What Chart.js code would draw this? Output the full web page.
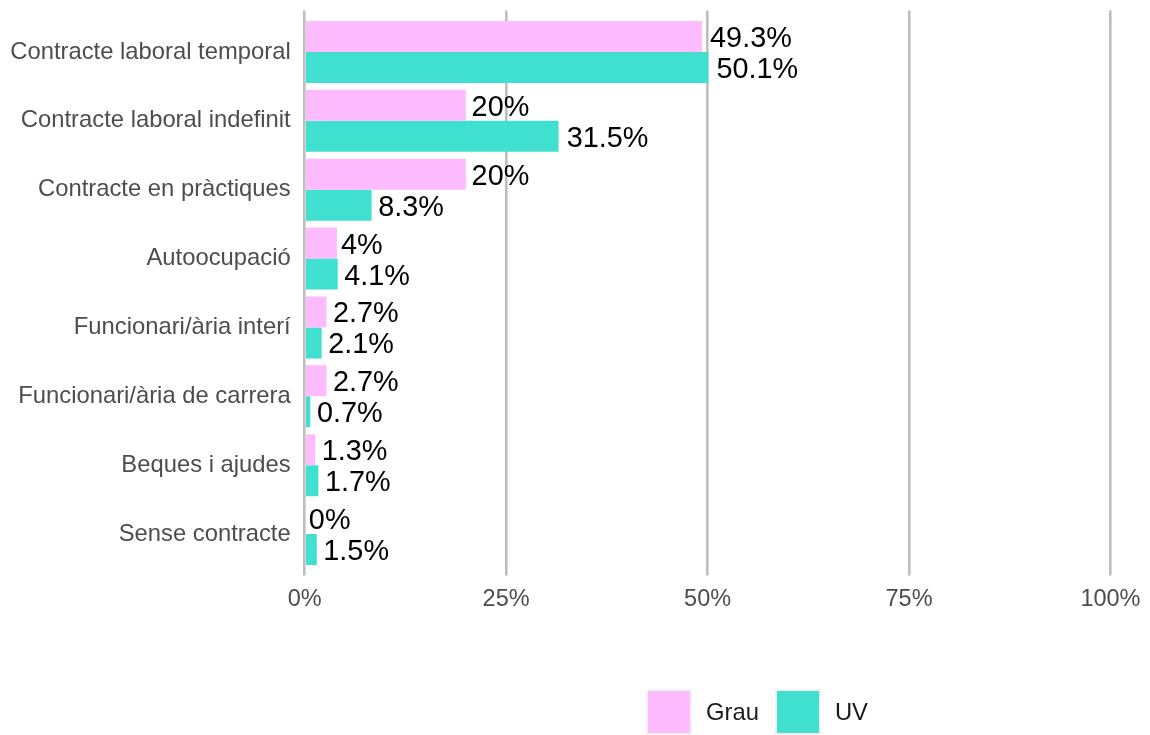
<!DOCTYPE html>
<html>
<head>
<meta charset="utf-8">
<script src="https://cdn.jsdelivr.net/npm/chart.js@4"></script>
<style>
  body { margin: 0; background: #fff; }
  #wrap { position: relative; width: 1150px; height: 735px; }
  #legend { position: absolute; top: 689px; left: 646px; display: flex; align-items: center;
    font-family: "Liberation Sans", Arial, sans-serif; font-size: 23.8px; color: #1a1a1a; }
  #legend .item { display: flex; align-items: center; margin-right: 16px; }
  #legend .box { width: 46px; height: 46px; box-sizing: border-box; border: 2px solid #f2f2f2; margin-right: 14px; }
</style>
</head>
<body>
<div id="wrap">
  <canvas id="contract_chart" width="1150" height="735"></canvas>
  <div id="legend"></div>
</div>
<script>
  // tipus de contracte
  const categories = [
    "Contracte laboral temporal",
    "Contracte laboral indefinit",
    "Contracte en pràctiques",
    "Autoocupació",
    "Funcionari/ària interí",
    "Funcionari/ària de carrera",
    "Beques i ajudes",
    "Sense contracte",
  ];
  const grauValues = [49.3, 20, 20, 4, 2.7, 2.7, 1.3, 0];
  const uvValues = [50.1, 31.5, 8.3, 4.1, 2.1, 0.7, 1.7, 1.5];
  const xTicks = [0, 25, 50, 75, 100];

  const fontFamily = '"Liberation Sans", Arial, sans-serif';
  const gridColor = "#bebebe";

  // value text at the end of each bar
  const valueLabels = {
    id: "valueLabels",
    afterDatasetsDraw(chart) {
      const ctx = chart.ctx;
      ctx.save();
      ctx.font = "28.8px " + fontFamily;
      ctx.fillStyle = "#000";
      ctx.textBaseline = "middle";
      ctx.textAlign = "left";
      chart.data.datasets.forEach(function (ds, i) {
        chart.getDatasetMeta(i).data.forEach(function (bar, j) {
          const text = ds.data[j] + "%";
          const w = ctx.measureText(text).width;
          ctx.fillText(text, bar.x + w * 0.1, bar.y + 2.5);
        });
      });
      ctx.restore();
    },
  };

  const contractChart = new Chart(document.getElementById("contract_chart"), {
    type: "bar",
    data: {
      labels: categories,
      datasets: [
        {
          label: "Grau",
          data: grauValues,
          backgroundColor: "#ffbbff",
          borderWidth: 0,
          categoryPercentage: 0.9,
          barPercentage: 1,
        },
        {
          label: "UV",
          data: uvValues,
          backgroundColor: "#40e0d0",
          borderWidth: 0,
          categoryPercentage: 0.9,
          barPercentage: 1,
        },
      ],
    },
    options: {
      indexAxis: "y",
      responsive: false,
      animation: false,
      layout: {
        padding: { left: 10, top: 10.5, right: 38.3, bottom: 0 },
      },
      plugins: {
        legend: { display: false },
        tooltip: { enabled: false },
      },
      scales: {
        x: {
          position: "bottom",
          min: 0,
          max: 100,
          afterBuildTicks: function (scale) {
            scale.ticks = xTicks.map(function (v) {
              return { value: v };
            });
          },
          afterFit: function (scale) {
            scale.height = 166.5;
          },
          grid: {
            color: gridColor,
            lineWidth: 2.6,
            drawTicks: true,
            tickLength: 7,
          },
          border: { display: false },
          ticks: {
            padding: 9.5,
            color: "#4d4d4d",
            font: { family: fontFamily, size: 23.5 },
            callback: function (value) {
              return value + "%";
            },
          },
        },
        // only the short grid stubs above the plot
        x2: {
          position: "top",
          axis: "x",
          min: 0,
          max: 100,
          afterBuildTicks: function (scale) {
            scale.ticks = xTicks.map(function (v) {
              return { value: v };
            });
          },
          afterFit: function (scale) {
            scale.height = 7;
          },
          grid: {
            color: gridColor,
            lineWidth: 2.6,
            drawOnChartArea: false,
            drawTicks: true,
            tickLength: 7,
          },
          border: { display: false },
          ticks: { display: false },
        },
        y: {
          afterFit: function (scale) {
            scale.width = 294.7;
            // labels sit inside the bands, no extra room above/below
            scale.paddingTop = 0;
            scale.paddingBottom = 0;
          },
          grid: { display: false, drawTicks: false },
          border: { display: false },
          ticks: {
            padding: 14,
            color: "#4d4d4d",
            font: { family: fontFamily, size: 23.8 },
          },
        },
      },
    },
    plugins: [valueLabels],
  });

  // legend
  const legendBox = document.getElementById("legend");
  contractChart.data.datasets.forEach(function (ds) {
    const item = document.createElement("div");
    item.className = "item";
    const box = document.createElement("span");
    box.className = "box";
    box.style.background = ds.backgroundColor;
    const text = document.createElement("span");
    text.textContent = ds.label;
    item.appendChild(box);
    item.appendChild(text);
    legendBox.appendChild(item);
  });
</script>
</body>
</html>
